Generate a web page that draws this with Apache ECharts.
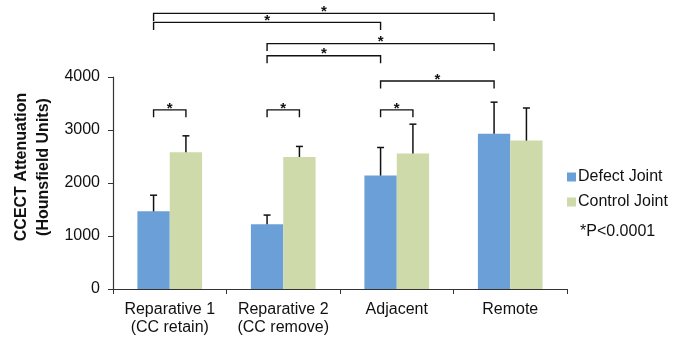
<!DOCTYPE html>
<html><head><meta charset="utf-8">
<script src="https://cdn.jsdelivr.net/npm/echarts@6/dist/echarts.min.js"></script>
<style>html,body{margin:0;padding:0;background:#fff}#c{width:675px;height:337px}</style>
</head><body><div id="c"></div>
<script>
const categories = ['Reparative 1\n(CC retain)', 'Reparative 2\n(CC remove)', 'Adjacent', 'Remote'];
const seriesNames = ['Defect Joint', 'Control Joint'];
const defectMean = [1465, 1220, 2140, 2930];
const defectErr = [305, 175, 530, 595];
const controlMean = [2580, 2490, 2555, 2800];
const controlErr = [310, 200, 555, 615];
const yMin = 0, yMax = 4000, yStep = 1000;
const yTitle = ['CCECT Attenuation', '(Hounsfield Units)'];
const noteText = '*P<0.0001';
// comparisons: [category A, series A, category B, series B, bracket level]
const brackets = [
  [0, 0, 0, 1, 3380],
  [1, 0, 1, 1, 3380],
  [2, 0, 2, 1, 3380],
  [2, 0, 3, 0, 3925],
  [1, 0, 2, 0, 4400],
  [1, 0, 3, 0, 4630],
  [0, 0, 2, 0, 5030],
  [0, 0, 3, 0, 5200]
];
const sigMark = '*';

const GAP = 0.43;
const colors = ['#6A9FD8', '#CEDAA9'];
const font = 'Liberation Sans, Arial, sans-serif';

function barOffset(api, s) {
  const band = api.size([1, 0])[0];
  const bw = band * (1 - GAP) / 2;
  return (s === 0 ? -1 : 1) * bw / 2;
}

function errRender(s, means, errs) {
  return function (params, api) {
    const i = api.value(0);
    const off = barOffset(api, s);
    const top = api.coord([i, means[i]]);
    const hi = api.coord([i, means[i] + errs[i]]);
    const x = top[0] + off;
    const st = { stroke: '#111', lineWidth: 1.5 };
    return {
      type: 'group',
      children: [
        { type: 'line', shape: { x1: x, y1: top[1], x2: x, y2: hi[1] }, style: st },
        { type: 'line', shape: { x1: x - 3.5, y1: hi[1], x2: x + 3.5, y2: hi[1] }, style: st }
      ]
    };
  };
}

function bracketRender(params, api) {
  const b = brackets[params.dataIndex];
  const pa = api.coord([b[0], b[4]]);
  const pb = api.coord([b[2], b[4]]);
  const xa = pa[0] + barOffset(api, b[1]);
  const xb = pb[0] + barOffset(api, b[3]);
  const y = pa[1];
  const leg = 7.5;
  const st = { stroke: '#111', lineWidth: 1.4, fill: null };
  return {
    type: 'group',
    children: [
      { type: 'polyline', shape: { points: [[xa, y + leg], [xa, y], [xb, y], [xb, y + leg]] }, style: st },
      { type: 'text', style: { text: sigMark, x: (xa + xb) / 2, y: y + 6, align: 'center', verticalAlign: 'bottom', font: 'bold 15px ' + font, fill: '#111' } }
    ]
  };
}

const chart = echarts.init(document.getElementById('c'), null, { renderer: 'canvas' });
chart.setOption({
  animation: false,
  backgroundColor: '#fff',
  textStyle: { fontFamily: font },
  grid: { left: 113, right: 108, top: 77, bottom: 47, containLabel: false },
  legend: {
    orient: 'vertical', left: 562, top: 164, itemWidth: 9, itemHeight: 9, itemGap: 9,
    icon: 'rect', data: seriesNames,
    textStyle: { fontSize: 16, color: '#111', fontFamily: font, padding: [0, 0, 0, -3] }
  },
  xAxis: {
    type: 'category', data: categories,
    axisLine: { lineStyle: { color: '#333', width: 1.2 } },
    axisTick: { show: true, alignWithLabel: false, length: 5, lineStyle: { color: '#333' } },
    axisLabel: { fontSize: 16, color: '#111', margin: 12, lineHeight: 18, fontFamily: font, interval: 0 }
  },
  yAxis: {
    type: 'value', min: yMin, max: yMax, interval: yStep,
    splitLine: { show: false },
    axisLine: { show: true, lineStyle: { color: '#333', width: 1.2 } },
    axisTick: { show: true, length: 5, lineStyle: { color: '#333' } },
    axisLabel: { fontSize: 16, color: '#111', margin: 13, fontFamily: font, formatter: v => String(v) }
  },
  graphic: [
    { type: 'text', x: 22, y: 167, rotation: Math.PI / 2, style: { text: yTitle[0], align: 'center', verticalAlign: 'middle', font: 'bold 16px ' + font, fill: '#111' } },
    { type: 'text', x: 44, y: 167, rotation: Math.PI / 2, style: { text: yTitle[1], align: 'center', verticalAlign: 'middle', font: 'bold 16px ' + font, fill: '#111' } },
    { type: 'text', x: 580, y: 232, style: { text: noteText, align: 'left', verticalAlign: 'middle', font: '16px ' + font, fill: '#111' } }
  ],
  series: [
    { name: seriesNames[0], type: 'bar', data: defectMean, barGap: '0%', barCategoryGap: (GAP * 100) + '%', itemStyle: { color: colors[0] } },
    { name: seriesNames[1], type: 'bar', data: controlMean, barGap: '0%', barCategoryGap: (GAP * 100) + '%', itemStyle: { color: colors[1] } },
    { type: 'custom', renderItem: errRender(0, defectMean, defectErr), data: defectMean.map((v, i) => [i, v]), z: 5, clip: false },
    { type: 'custom', renderItem: errRender(1, controlMean, controlErr), data: controlMean.map((v, i) => [i, v]), z: 5, clip: false },
    { type: 'custom', renderItem: bracketRender, data: brackets.map(b => [b[0], b[4]]), z: 6, clip: false }
  ]
});
</script>
</body></html>
